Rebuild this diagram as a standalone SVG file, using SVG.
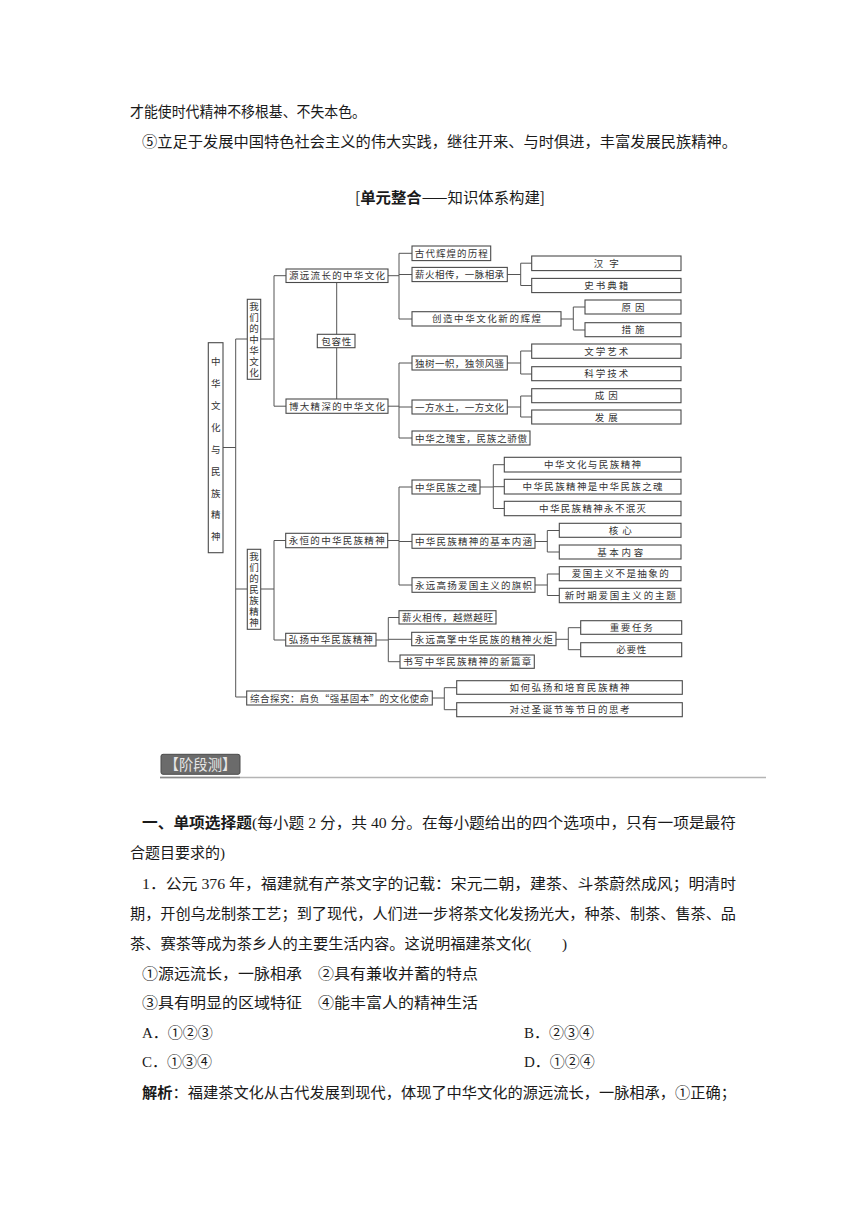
<svg xmlns="http://www.w3.org/2000/svg" width="860" height="1216" viewBox="0 0 860 1216">
<style>
.bg{fill:#fff}
.b{fill:#fff;stroke:#4a4a4a;stroke-width:1.1}
.t{font-family:"Noto Sans CJK SC",sans-serif;font-size:9.5px;fill:#333;text-anchor:middle}
.v{font-family:"Noto Sans CJK SC",sans-serif;font-size:9.5px;fill:#333;text-anchor:middle;writing-mode:vertical-rl}
.c{fill:none;stroke:#555;stroke-width:1}
.p{font-family:"Liberation Serif","Noto Sans CJK SC",serif;font-size:15px;fill:#1a1a1a}
.h{font-family:"Noto Sans CJK SC",sans-serif;font-size:15px;fill:#1a1a1a}
.bold{font-weight:bold}
</style>
<rect class="bg" x="0" y="0" width="860" height="1216"/>

<g id="top-text">
<text class="p" x="130" y="117" textLength="236" lengthAdjust="spacingAndGlyphs">才能使时代精神不移根基、不失本色。</text>
<text class="p" x="142" y="147" textLength="595" lengthAdjust="spacingAndGlyphs">⑤立足于发展中国特色社会主义的伟大实践，继往开来、与时俱进，丰富发展民族精神。</text>
<text class="h" x="450" y="203" text-anchor="middle" textLength="190" lengthAdjust="spacingAndGlyphs">[<tspan class="bold">单元整合</tspan>——知识体系构建]</text>
</g>

<g id="connectors" class="c">
<path d="M223,447.5H235.7M235.7,339V697M235.7,339H247M235.7,589H247M235.7,697H247"/>
<path d="M261,339H274M274,275.7V406.2M274,275.7H286M274,406.2H286"/>
<path d="M336.7,282.5V399"/>
<path d="M388,275.7H399M399,253.3V319M399,253.3H412M399,274.5H412M399,319H412"/>
<path d="M507,274.5H520.7M520.7,263.2V285.5M520.7,263.2H532M520.7,285.5H532"/>
<path d="M561,319H573.3M573.3,307V330M573.3,307H585M573.3,330H585"/>
<path d="M388,406.2H399M399,363V438M399,363H412M399,407H412M399,438H412"/>
<path d="M507,363H520.7M520.7,351V374M520.7,351H532M520.7,374H532"/>
<path d="M507,407H520.7M520.7,396V417M520.7,396H532M520.7,417H532"/>
<path d="M261,589H274M274,540.5V640M274,540.5H286M274,640H286"/>
<path d="M388,540.5H399M399,487V585M399,487H412M399,541.5H412M399,585H412"/>
<path d="M480,487H493.3M493.3,464.7V508.5M493.3,464.7H504.5M493.3,486.7H504.5M493.3,508.5H504.5"/>
<path d="M535,541.5H547.3M547.3,530.5V552M547.3,530.5H559.5M547.3,552H559.5"/>
<path d="M535,585H547.3M547.3,574V595.5M547.3,574H559.5M547.3,595.5H559.5"/>
<path d="M376,640H388.3M388.3,617.5V661.7M388.3,617.5H399M388.3,639.3H412M388.3,661.7H400"/>
<path d="M556,639.3H568.3M568.3,627.7V649.7M568.3,627.7H581M568.3,649.7H581"/>
<path d="M432,698H444.3M444.3,687.7V709.7M444.3,687.7H457M444.3,709.7H457"/>
</g>

<g id="n-root">
<rect class="b" x="208.3" y="342.7" width="14.7" height="210"/>
<text class="v" x="215.7" y="449.2" textLength="184.5" lengthAdjust="spacing">中华文化与民族精神</text>
</g>
<g id="n-culture">
<rect class="b" x="247.3" y="299.3" width="13.4" height="80"/>
<text class="v" x="254" y="339.3" textLength="76" lengthAdjust="spacing">我们的中华文化</text>
</g>
<g id="n-spirit">
<rect class="b" x="247.3" y="549.3" width="13.4" height="80"/>
<text class="v" x="254" y="589.3" textLength="76" lengthAdjust="spacing">我们的民族精神</text>
</g>

<g id="n-yuanyuan"><rect class="b" x="286" y="269" width="102" height="13.5"/><text class="t" x="337" y="279.2" textLength="96" lengthAdjust="spacing">源远流长的中华文化</text></g>
<g id="n-boda"><rect class="b" x="286" y="399" width="102" height="14.3"/><text class="t" x="337" y="409.6" textLength="96" lengthAdjust="spacing">博大精深的中华文化</text></g>
<g id="n-baorong"><rect class="b" x="317.3" y="334.3" width="37.7" height="13.4"/><text class="t" x="336.2" y="344.5" textLength="30" lengthAdjust="spacing">包容性</text></g>

<g id="n-gudai"><rect class="b" x="412" y="246" width="78.7" height="14.6"/><text class="t" x="451.3" y="256.7" textLength="73" lengthAdjust="spacing">古代辉煌的历程</text></g>
<g id="n-xinhuo1"><rect class="b" x="412" y="267.4" width="95.3" height="14.2"/><text class="t" x="459.6" y="278" textLength="89" lengthAdjust="spacing">薪火相传，一脉相承</text></g>
<g id="n-hanzi"><rect class="b" x="531.7" y="256" width="149.3" height="14.6"/><text class="t" x="606.3" y="266.8" textLength="25" lengthAdjust="spacing">汉字</text></g>
<g id="n-shishu"><rect class="b" x="531.7" y="278.4" width="149.3" height="14.2"/><text class="t" x="606.3" y="289" textLength="44" lengthAdjust="spacing">史书典籍</text></g>
<g id="n-chuangzao"><rect class="b" x="412" y="311.7" width="149" height="14.3"/><text class="t" x="486.5" y="322.3" textLength="109" lengthAdjust="spacing">创造中华文化新的辉煌</text></g>
<g id="n-yuanyin"><rect class="b" x="585" y="300" width="96" height="14"/><text class="t" x="633" y="310.5" textLength="23" lengthAdjust="spacing">原因</text></g>
<g id="n-cuoshi"><rect class="b" x="585" y="322.7" width="96" height="14"/><text class="t" x="633" y="333.2" textLength="23" lengthAdjust="spacing">措施</text></g>

<g id="n-dushu"><rect class="b" x="412" y="356" width="95.3" height="14"/><text class="t" x="459.6" y="366.5" textLength="89" lengthAdjust="spacing">独树一帜，独领风骚</text></g>
<g id="n-wenxue"><rect class="b" x="531.7" y="344" width="149.3" height="14.3"/><text class="t" x="606.3" y="354.6" textLength="44" lengthAdjust="spacing">文学艺术</text></g>
<g id="n-kexue"><rect class="b" x="531.7" y="366.7" width="149.3" height="14"/><text class="t" x="606.3" y="377.2" textLength="44" lengthAdjust="spacing">科学技术</text></g>
<g id="n-yifang"><rect class="b" x="412" y="400" width="95.3" height="14"/><text class="t" x="459.6" y="410.5" textLength="89" lengthAdjust="spacing">一方水土，一方文化</text></g>
<g id="n-chengyin"><rect class="b" x="531.7" y="388.7" width="149.3" height="14"/><text class="t" x="606.3" y="399.2" textLength="23" lengthAdjust="spacing">成因</text></g>
<g id="n-fazhan"><rect class="b" x="531.7" y="410" width="149.3" height="14"/><text class="t" x="606.3" y="420.5" textLength="23" lengthAdjust="spacing">发展</text></g>
<g id="n-guibao"><rect class="b" x="412" y="431" width="118" height="14"/><text class="t" x="471" y="441.5" textLength="112" lengthAdjust="spacing">中华之瑰宝，民族之骄傲</text></g>

<g id="n-yongheng"><rect class="b" x="285.7" y="533.3" width="102" height="14.4"/><text class="t" x="336.7" y="544" textLength="96" lengthAdjust="spacing">永恒的中华民族精神</text></g>
<g id="n-zhihun"><rect class="b" x="412" y="480" width="68" height="14"/><text class="t" x="446" y="490.5" textLength="62" lengthAdjust="spacing">中华民族之魂</text></g>
<g id="n-wh"><rect class="b" x="504.3" y="457.3" width="176.7" height="14.7"/><text class="t" x="592.6" y="468.1" textLength="97" lengthAdjust="spacing">中华文化与民族精神</text></g>
<g id="n-shihun"><rect class="b" x="504.3" y="479.3" width="176.7" height="14.7"/><text class="t" x="592.6" y="490.1" textLength="140" lengthAdjust="spacing">中华民族精神是中华民族之魂</text></g>
<g id="n-yongbu"><rect class="b" x="504.3" y="501.3" width="176.7" height="14.4"/><text class="t" x="592.6" y="512" textLength="107" lengthAdjust="spacing">中华民族精神永不泯灭</text></g>
<g id="n-neihan"><rect class="b" x="412" y="534.3" width="123" height="14"/><text class="t" x="473.5" y="544.8" textLength="117" lengthAdjust="spacing">中华民族精神的基本内涵</text></g>
<g id="n-hexin"><rect class="b" x="559.3" y="523.3" width="121.7" height="14"/><text class="t" x="620.2" y="533.8" textLength="23" lengthAdjust="spacing">核心</text></g>
<g id="n-jiben"><rect class="b" x="559.3" y="545" width="121.7" height="14"/><text class="t" x="620.2" y="555.5" textLength="46" lengthAdjust="spacing">基本内容</text></g>
<g id="n-qizhi"><rect class="b" x="412" y="577.7" width="123" height="14.6"/><text class="t" x="473.5" y="588.5" textLength="117" lengthAdjust="spacing">永远高扬爱国主义的旗帜</text></g>
<g id="n-chouxiang"><rect class="b" x="559.3" y="566.7" width="121.7" height="14"/><text class="t" x="620.2" y="577.2" textLength="97" lengthAdjust="spacing">爱国主义不是抽象的</text></g>
<g id="n-zhuti"><rect class="b" x="559.3" y="588.3" width="121.7" height="14.4"/><text class="t" x="620.2" y="599" textLength="111" lengthAdjust="spacing">新时期爱国主义的主题</text></g>

<g id="n-hongyang"><rect class="b" x="285.7" y="633.3" width="90.3" height="12.7"/><text class="t" x="330.8" y="643.2" textLength="84" lengthAdjust="spacing">弘扬中华民族精神</text></g>
<g id="n-xinhuo2"><rect class="b" x="399" y="610.7" width="97" height="13.3"/><text class="t" x="447.5" y="620.9" textLength="91" lengthAdjust="spacing">薪火相传，越燃越旺</text></g>
<g id="n-huoju"><rect class="b" x="411.7" y="632.3" width="144.3" height="13.4"/><text class="t" x="483.8" y="642.5" textLength="138" lengthAdjust="spacing">永远高擎中华民族的精神火炬</text></g>
<g id="n-renwu"><rect class="b" x="580.7" y="620.7" width="101" height="13.6"/><text class="t" x="631.2" y="631" textLength="43" lengthAdjust="spacing">重要任务</text></g>
<g id="n-biyao"><rect class="b" x="580.7" y="642.7" width="101" height="14"/><text class="t" x="631.2" y="653.2" textLength="30" lengthAdjust="spacing">必要性</text></g>
<g id="n-shuxie"><rect class="b" x="400" y="655" width="134.3" height="13.3"/><text class="t" x="467.2" y="665.2" textLength="128" lengthAdjust="spacing">书写中华民族精神的新篇章</text></g>

<g id="n-zonghe"><rect class="b" x="246.7" y="691" width="185.6" height="14"/><text class="t" x="339.5" y="701.5" textLength="179" lengthAdjust="spacing">综合探究：肩负“强基固本”的文化使命</text></g>
<g id="n-ruhe"><rect class="b" x="456.7" y="680.7" width="225.6" height="13.6"/><text class="t" x="569.5" y="691" textLength="120" lengthAdjust="spacing">如何弘扬和培育民族精神</text></g>
<g id="n-guoshengdan"><rect class="b" x="456.7" y="702.7" width="225.6" height="14"/><text class="t" x="569.5" y="713.2" textLength="120" lengthAdjust="spacing">对过圣诞节等节日的思考</text></g>

<g id="section-header">
<line x1="160" y1="777.5" x2="766" y2="777.5" stroke="#b4b4b4" stroke-width="1.5"/>
<line x1="160" y1="777.5" x2="240" y2="777.5" stroke="#888" stroke-width="1.5"/>
<rect x="161" y="754.3" width="79" height="20" rx="2" fill="#6b6b6b" stroke="#4a4a4a" stroke-width="1"/>
<text x="200.5" y="769.5" text-anchor="middle" font-family="Noto Sans CJK SC, sans-serif" font-size="15" fill="#e6e6e6" textLength="72" lengthAdjust="spacingAndGlyphs">【阶段测】</text>
</g>

<g id="question-text">
<text class="p" x="142" y="828" textLength="594" lengthAdjust="spacingAndGlyphs"><tspan class="bold" font-family="Noto Sans CJK SC, sans-serif">一、单项选择题</tspan>(每小题 2 分，共 40 分。在每小题给出的四个选项中，只有一项是最符</text>
<text class="p" x="130" y="858">合题目要求的)</text>
<text class="p" x="142" y="889" textLength="594" lengthAdjust="spacingAndGlyphs">1．公元 376 年，福建就有产茶文字的记载：宋元二朝，建茶、斗茶蔚然成风；明清时</text>
<text class="p" x="130" y="919" textLength="606" lengthAdjust="spacingAndGlyphs">期，开创乌龙制茶工艺；到了现代，人们进一步将茶文化发扬光大，种茶、制茶、售茶、品</text>
<text class="p" x="130" y="949" textLength="437" lengthAdjust="spacingAndGlyphs">茶、赛茶等成为茶乡人的主要生活内容。这说明福建茶文化(　　)</text>
<text class="p" x="142" y="979" textLength="336" lengthAdjust="spacingAndGlyphs">①源远流长，一脉相承　②具有兼收并蓄的特点</text>
<text class="p" x="142" y="1008" textLength="336" lengthAdjust="spacingAndGlyphs">③具有明显的区域特征　④能丰富人的精神生活</text>
<text class="p" x="142" y="1038">A．①②③</text>
<text class="p" x="524" y="1038">B．②③④</text>
<text class="p" x="142" y="1067">C．①③④</text>
<text class="p" x="524" y="1067">D．①②④</text>
<text class="p" x="142" y="1098" textLength="594" lengthAdjust="spacingAndGlyphs"><tspan class="bold" font-family="Noto Sans CJK SC, sans-serif">解析</tspan>：福建茶文化从古代发展到现代，体现了中华文化的源远流长，一脉相承，①正确；</text>
</g>
</svg>
